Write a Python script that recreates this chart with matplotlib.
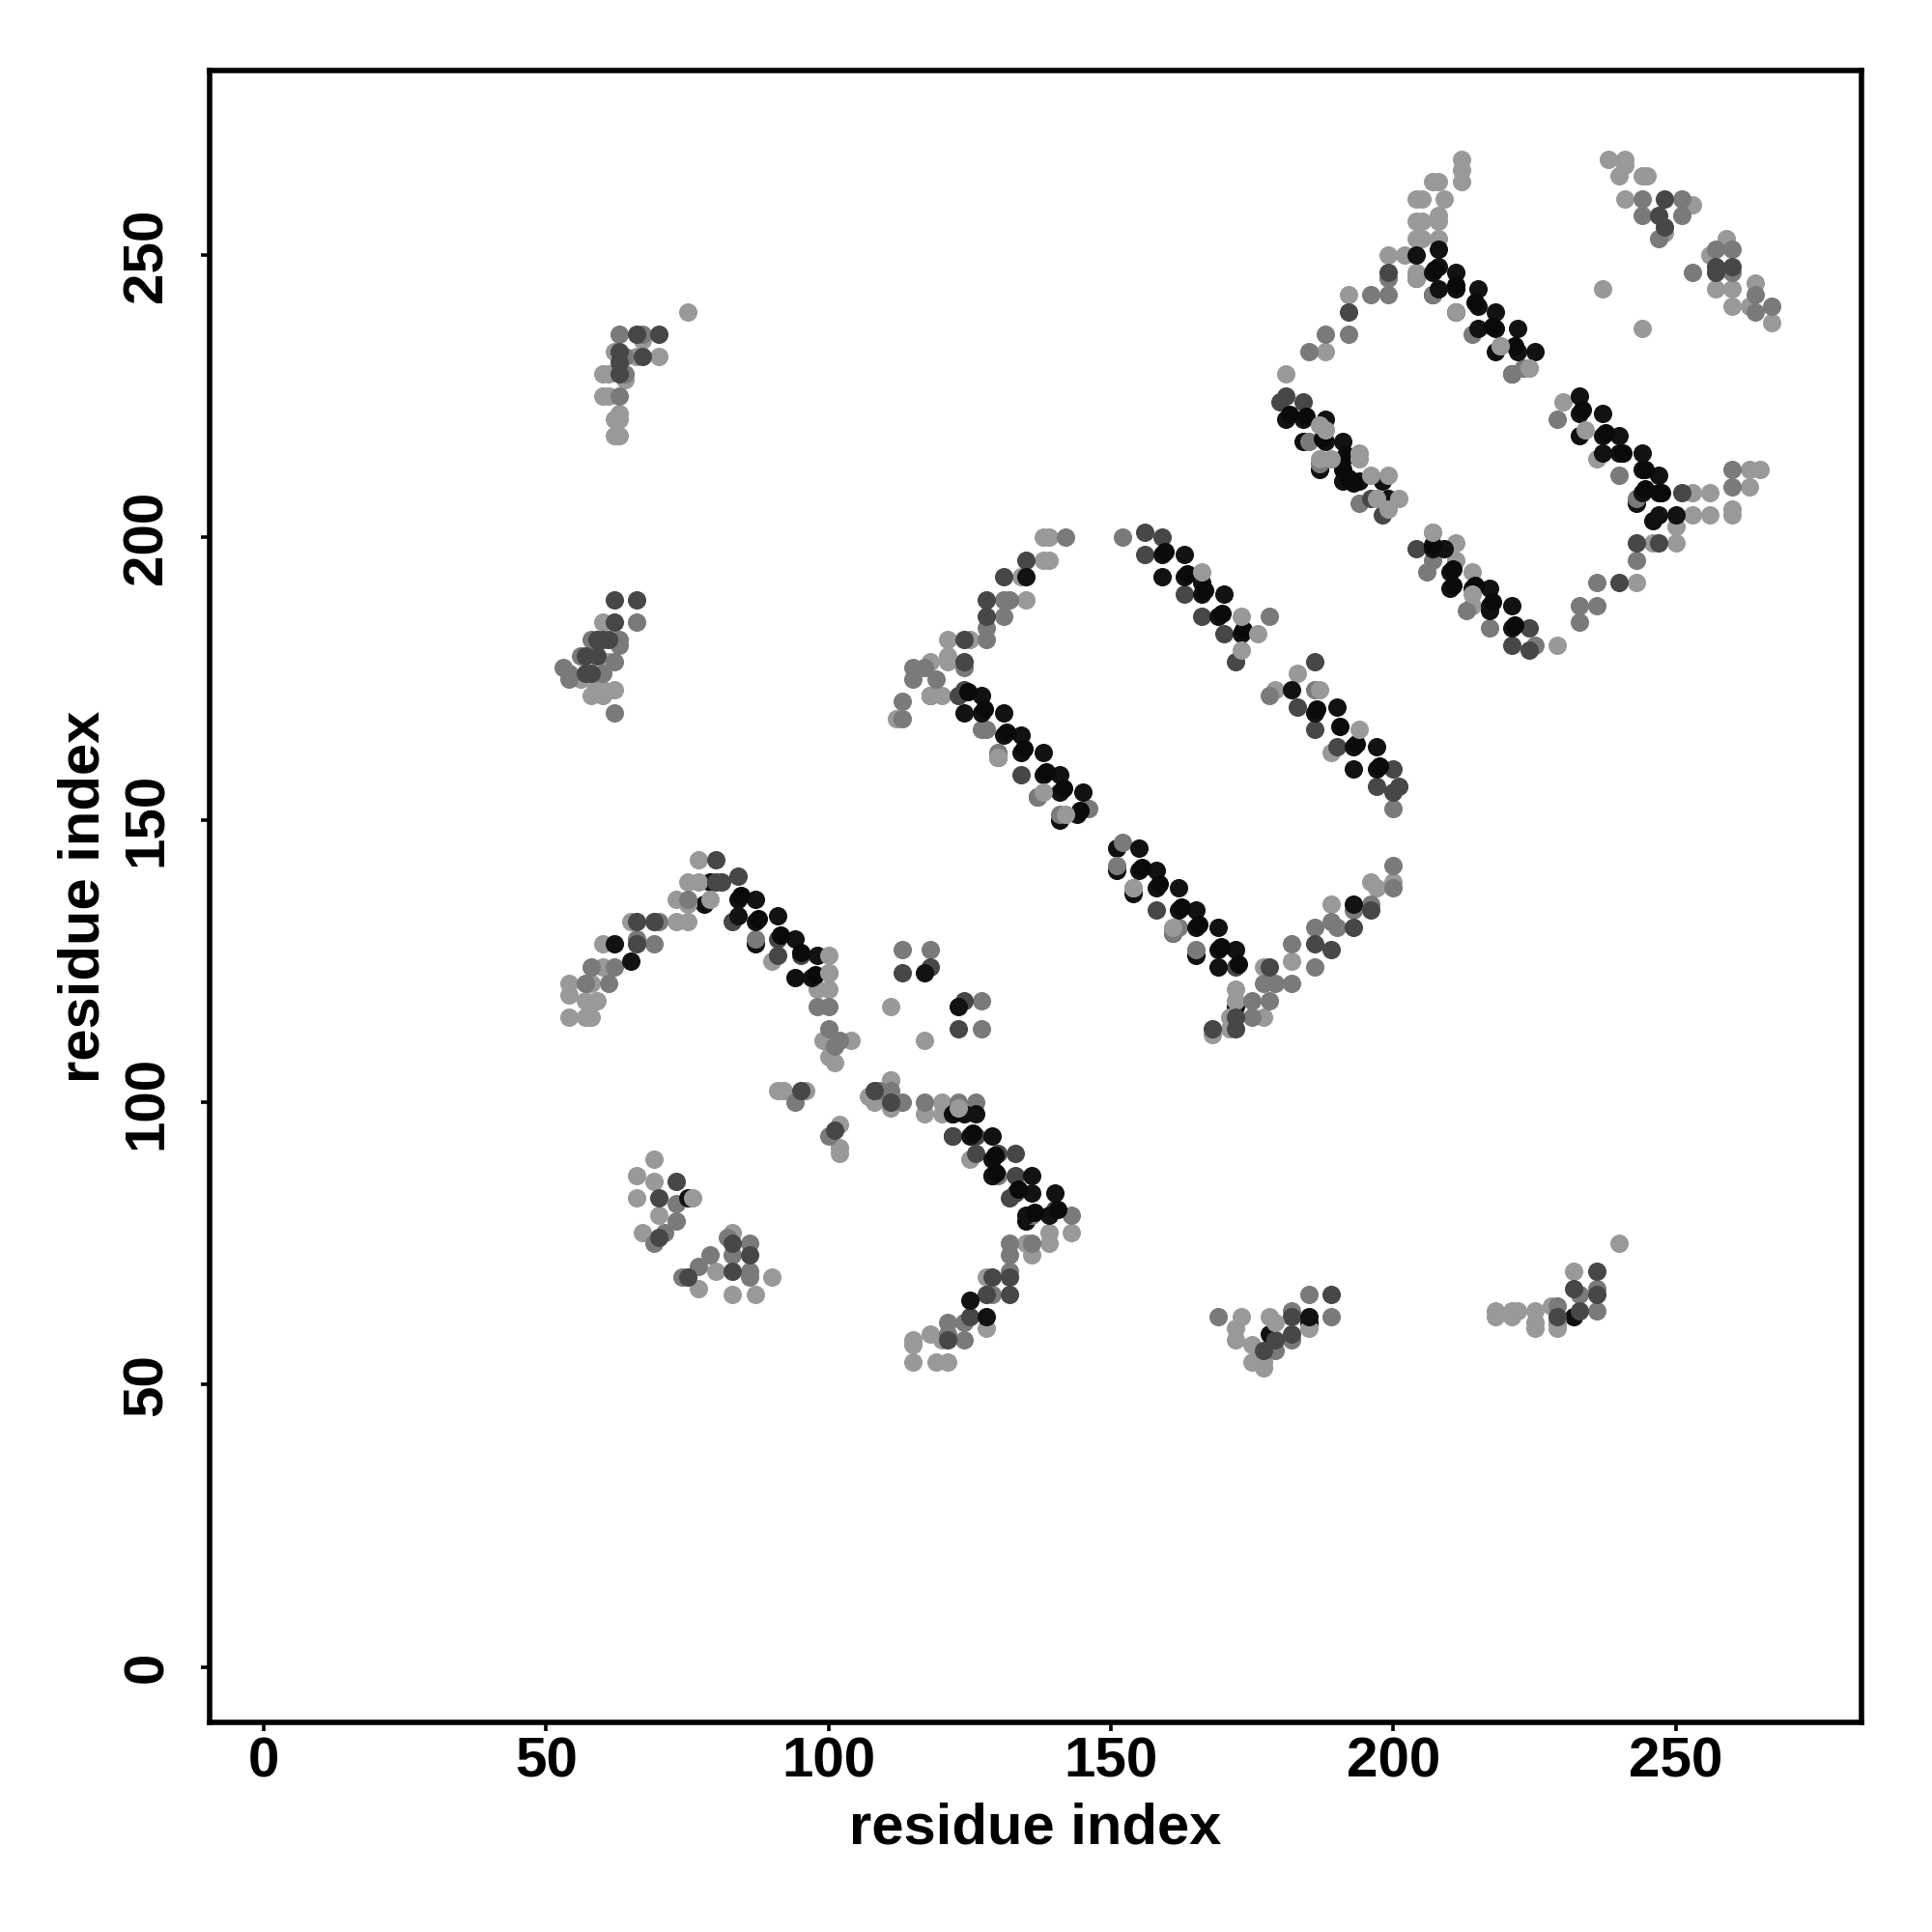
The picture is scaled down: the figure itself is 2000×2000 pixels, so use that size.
import matplotlib
matplotlib.use("Agg")
import matplotlib.pyplot as plt

plt.rcParams['font.family'] = ['Liberation Sans', 'DejaVu Sans']

# contacts, grouped by how dark the dot is
black_low = [(204,246),(207,243),(211,240),(218,233),(221,229),(184,217),(187,212),(233,218),(243,206),(246,203),
    (118,172),(130,161),(137,154),(141,150),(151,145),(151,141),(154,137),(161,130),(165,126),(172,117),
    (79,139),(78,135),(87,128),(94,122),(122,98),(135,79),(129,87),(122,94),(178,59),(185,61),(229,61),(232,62)]
light = [(212,267),(212,265),(212,263),(208,263),(207,263),(209,260),(204,260),(205,260),(208,257),(208,256),(204,256),
    (205,256),(204,253),(205,253),(208,253),(199,250),(202,250),(192,243),(188,233),(181,229),(204,247),(204,246),
    (211,240),(219,234),(224,230),(230,224),(236,214),(253,208),(256,208),(263,209),(263,212),(265,212),(253,204),
    (256,204),(260,204),(260,205),(250,202),(250,199),(246,199),(243,192),(229,181),(207,201),(211,199),(211,196),
    (214,194),(214,188),(238,267),(241,267),(240,264),(241,266),(244,264),(245,264),(241,260),(253,259),(248,254),
    (259,253),(256,250),(257,244),(260,244),(264,245),(260,241),(263,241),(267,238),(237,244),(244,237),
    (138,200),(139,200),(138,196),(139,196),(134,193),(135,189),(121,182),(125,182),(121,179),(118,178),(121,178),
    (120,172),(118,172),(112,168),(179,173),(183,176),(189,162),(196,139),(200,139),(197,138),(189,135),(182,125),
    (177,124),(172,120),(172,118),(171,115),(171,113),(177,115),(168,112),(111,117),(117,111),(111,104),
    (77,143),(75,139),(77,139),(73,136),(75,135),(79,136),(73,132),(75,132),(65,132),(60,128),(60,124),(58,121),(54,121),
    (54,119),(59,118),(57,118),(54,115),(57,115),(58,115),(90,125),(100,120),(98,120),(104,111),(99,111),(101,107),
    (100,108),(91,102),(92,102),(96,102),(102,96),(102,92),(102,91),(111,104),(107,101),(108,100),(111,99),(117,98),
    (120,100),(120,98),(125,90),(139,77),(143,77),(139,75),(135,75),(136,73),(128,69),(128,60),(118,59),(120,58),
    (115,58),(115,57),(115,54),(119,54),(121,54),(69,90),(66,87),(69,86),(66,83),(70,80),(67,77),(83,77),(80,70),
    (90,69),(77,67),(83,66),(87,66),(173,62),(172,60),(178,62),(172,58),(175,57),(175,54),(177,54),(177,53),(185,60),
    (240,75),(232,70),(218,63),(218,62),(221,63),(221,62),(222,63),(225,63),(225,61),(225,60),(228,64),(229,60),(229,61),
    (75,240),(67,235),(62,233),(66,232),(70,232),(60,229),(61,229),(64,228),(60,225),(61,225),(63,222),(62,221),(63,221),
    (62,218),(63,218),(60,185),(61,178),(56,175),(58,175),(58,172),(60,173),(62,173),(60,172)]
mid = [(199,246),(196,243),(199,243),(188,236),(192,236),(185,233),(207,243),(214,236),(221,229),(223,230),(185,217),
    (187,213),(194,206),(229,221),(240,211),(243,207),(260,209),(260,212),(243,196),(236,192),(233,188),(236,188),
    (233,185),(207,196),(206,194),(213,187),(217,184),(225,181),(244,260),(251,260),(244,257),(251,257),(247,253),
    (257,251),(260,251),(253,247),(260,247),(264,243),(264,240),(267,241),(142,200),(132,189),(131,189),(131,186),
    (128,184),(128,182),(124,177),(117,177),(119,175),(115,177),(115,175),(113,171),(113,168),(127,166),(128,166),
    (130,162),(130,161),(137,154),(141,151),(146,152),(152,200),(178,186),(178,172),(186,173),(200,152),(152,146),
    (151,142),(154,138),(161,130),(162,131),(165,127),(200,142),(200,138),(196,135),(186,131),(189,132),(190,131),
    (193,134),(182,128),(186,124),(182,121),(179,121),(177,121),(178,118),(175,118),(175,115),(113,127),(118,127),
    (127,118),(127,113),(75,136),(70,132),(66,129),(69,128),(62,124),(58,124),(61,121),(57,121),(87,129),(100,123),
    (98,117),(100,117),(100,113),(102,111),(101,110),(94,100),(100,94),(109,102),(111,102),(113,100),(117,100),
    (123,100),(126,100),(130,87),(136,80),(143,80),(136,75),(132,75),(132,73),(132,70),(129,66),(124,61),(124,58),
    (121,61),(121,59),(73,82),(73,79),(71,77),(69,75),(82,76),(86,75),(79,73),(83,73),(77,71),(86,70),(74,69),(86,69),
    (169,62),(182,63),(182,58),(189,62),(185,66),(179,56),(236,67),(233,66),(229,64),(236,63),
    (63,236),(67,236),(64,232),(64,229),(63,225),(66,185),(58,182),(63,182),(63,181),(56,179),(62,178),(53,177),(54,176),
    (60,176),(54,175),(62,169)]
dark = [(199,247),(192,240),(181,225),(180,224),(184,224),(196,207),(198,204),(251,208),(243,199),(247,199),(240,192),
    (204,198),(224,184),(221,181),(224,180),(248,260),(247,257),(248,255),(257,248),(260,248),(257,247),(135,196),
    (131,193),(128,189),(128,186),(124,182),(124,178),(123,172),(124,173),(134,158),(156,201),(159,200),(156,197),
    (163,190),(166,186),(170,183),(172,178),(186,178),(183,170),(186,166),(190,163),(200,159),(197,156),(200,155),
    (201,156),(158,134),(172,124),(196,134),(193,131),(186,128),(189,127),(178,124),(172,115),(172,113),(168,113),
    (113,123),(118,124),(124,118),(123,113),(80,143),(80,139),(81,139),(84,140),(69,132),(66,132),(66,128),(83,132),
    (91,129),(91,126),(95,126),(122,94),(126,94),(126,91),(130,91),(133,91),(133,87),(132,83),(133,84),(140,81),(132,69),
    (129,69),(132,66),(128,66),(125,62),(121,58),(73,86),(70,83),(70,76),(83,75),(86,73),(83,70),(75,69),(95,102),(101,95),
    (108,102),(111,100),(177,56),(182,62),(182,59),(189,66),(179,58),(236,70),(232,67),(236,66),(229,62),(233,63),
    (66,236),(70,236),(63,233),(67,232),(63,231),(63,229),(62,189),(66,189),(62,185),(59,182),(60,182),(61,182),(57,179),
    (59,179),(57,176),(58,176)]
black = [(204,250),(208,251),(208,248),(207,247),(211,247),(208,244),(211,244),(215,244),(215,241),(218,240),(215,237),
    (218,237),(222,237),(222,233),(225,233),(181,221),(184,221),(188,221),(188,217),(191,217),(191,214),(191,210),
    (194,210),(198,210),(199,207),(233,225),(233,222),(237,222),(237,218),(240,218),(237,215),(240,215),(244,215),
    (244,212),(247,211),(244,208),(247,208),(247,204),(250,204),(207,198),(209,198),(210,194),(210,191),(214,191),
    (217,191),(217,188),(221,188),(217,187),(221,184),(135,193),(127,172),(124,169),(127,169),(131,169),(131,165),
    (134,165),(134,162),(138,162),(138,158),(141,158),(141,155),(145,155),(144,151),(159,197),(163,197),(159,193),
    (163,193),(166,192),(166,190),(170,190),(169,186),(173,183),(182,173),(186,169),(190,170),(193,163),(197,163),
    (193,159),(197,159),(155,145),(155,141),(158,141),(158,138),(162,138),(162,134),(165,134),(165,131),(169,131),
    (169,127),(172,127),(169,124),(193,135),(117,123),(123,117),(62,128),(65,125),(84,136),(87,136),(84,133),(87,132),
    (91,133),(94,129),(98,126),(97,122),(122,98),(124,98),(126,98),(125,94),(129,94),(129,90),(129,87),(136,87),(136,84),
    (140,84),(135,80),(139,80),(125,65),(128,62),(75,83),(185,62)]
# second dot in the thick lumps along the strands
black_lump = [(207.3,247.5),(211,244.8),(214.4,241.6),(217.5,237.4),(221.5,234),
    (181.7,221.8),(184.6,221.5),(187.5,217.6),(191.5,214.6),(191,212),(192,210.6),(193,209.6),
    (233.5,222.6),(237.5,218.6),(240.6,215),(244.5,212),(244.5,208.6),(247.5,208),
    (207,198.7),(210.6,194.5),(210.5,191.6),(214.5,191.5),(217.5,188.6),(221.5,184.6),
    (124.6,172.7),(127.6,169.6),(131.5,165.6),(134.6,162.6),(138.6,158.6),(141.6,155.6),(144.6,151.6),
    (159.6,197.6),(163.5,193.6),(166.5,190.6),(169.6,186.5),(173.4,183.6),
    (186.5,169.6),(190.5,166.5),(193.5,163.5),(197.5,159.6),
    (155.5,141.6),(158.6,138.6),(162.5,134.6),(165.6,131.5),(169.5,127.6),(172.5,124.5),
    (84.5,136.6),(87.5,132.6),(91.5,129.6),(95,126.5),(97.6,122.6),
    (122.6,98.5),(125.6,94.5),(129.5,90.6),(129.6,87.6),(133.5,84.6),(136.5,80.6),(140.5,81)]
light_top = [(194,214),(196,211),(199,211),(199,205),(201,207),(194,215),(234,219),(207,201),(214,190),(219,234),
    (224,230),(166,194),(173,186),(176,183),(173,180),(194,166),(138,155),(142,151),(187,173),(76,83),(123,99),(179,61),
    (187,220),(188,219),(187,214),(189,214),(197,207),(130,161),(161,131),(154,138),(100,126),(100,123)]
x_ticks = [0, 50, 100, 150, 200, 250]
y_ticks = [0, 50, 100, 150, 200, 250]

fig = plt.figure(figsize=(10, 10), dpi=200)
ax = fig.add_axes([0.1085, 0.1085, 0.855, 0.855])

groups = [(black_low, '#101010'), (light, '#999999'), (mid, '#7a7a7a'), (dark, '#474747'),
    (black, '#121212'), (black_lump, '#0a0a0a'), (light_top, '#999999')]
for pts, col in groups:
    ax.scatter([p[0] for p in pts], [p[1] for p in pts], s=47, c=col, linewidths=0, zorder=3)

ax.set_xlim(-9.6, 282.9)
ax.set_ylim(-9.8, 282.7)
ax.set_xticks(x_ticks)
ax.set_yticks(y_ticks)
ax.tick_params(length=3.4, width=1.3, labelsize=21)
ax.tick_params(axis='x', pad=1.8)
ax.tick_params(axis='y', pad=10)
for lab in ax.get_xticklabels():
    lab.set_fontweight('bold')
for lab in ax.get_yticklabels():
    lab.set_fontweight('bold')
    lab.set_rotation(90)
    lab.set_va('center')
for sp in ax.spines.values():
    sp.set_linewidth(2.0)
ax.set_xlabel('residue index', fontsize=21.5, fontweight='bold', labelpad=5)
ax.set_ylabel('residue index', fontsize=21.5, fontweight='bold', labelpad=4)

fig.savefig('out.png', dpi=200)
